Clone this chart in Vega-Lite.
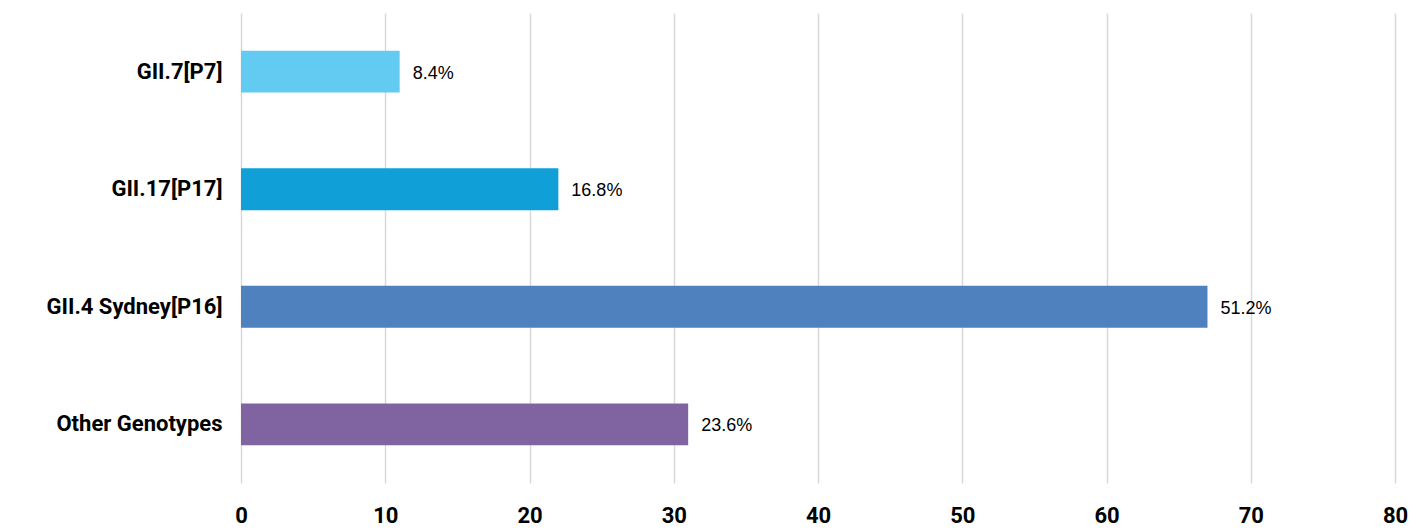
{
  "$schema": "https://vega.github.io/schema/vega-lite/v6.json",
  "autosize": {"type": "none"},
  "width": 1154,
  "height": 470,
  "padding": {"left": 241, "top": 13, "right": 27, "bottom": 47},
  "background": "white",
  "config": {"view": {"stroke": null}},
  "data": {
    "values": [
      {"genotype": "GII.7[P7]", "count": 11, "label": "8.4%"},
      {"genotype": "GII.17[P17]", "count": 22, "label": "16.8%"},
      {"genotype": "GII.4 Sydney[P16]", "count": 67, "label": "51.2%"},
      {"genotype": "Other Genotypes", "count": 31, "label": "23.6%"}
    ]
  },
  "encoding": {
    "y": {
      "field": "genotype",
      "type": "nominal",
      "sort": null,
      "scale": {"paddingInner": 0.643, "paddingOuter": 0.32},
      "axis": {
        "title": null,
        "domain": false,
        "ticks": false,
        "labelFont": "Roboto",
        "labelFontWeight": "bold",
        "labelFontSize": 22,
        "labelColor": "#000000",
        "labelPadding": 19
      }
    },
    "x": {
      "field": "count",
      "type": "quantitative",
      "scale": {"domain": [0, 80], "nice": false},
      "axis": {
        "title": null,
        "values": [0, 10, 20, 30, 40, 50, 60, 70, 80],
        "domain": false,
        "ticks": false,
        "grid": true,
        "gridColor": "#d9d9d9",
        "gridWidth": 1.5,
        "labelFlush": false,
        "labelFont": "Roboto",
        "labelFontWeight": "bold",
        "labelFontSize": 22,
        "labelColor": "#000000",
        "labelPadding": 22
      }
    }
  },
  "layer": [
    {
      "mark": {"type": "bar"},
      "encoding": {
        "color": {
          "field": "genotype",
          "type": "nominal",
          "legend": null,
          "scale": {
            "domain": ["GII.7[P7]", "GII.17[P17]", "GII.4 Sydney[P16]", "Other Genotypes"],
            "range": ["#63CBF2", "#119FD8", "#4E81BD", "#8064A2"]
          }
        }
      }
    },
    {
      "mark": {"type": "text", "align": "left", "baseline": "middle", "dx": 13, "dy": 2, "font": "Liberation Sans", "fontSize": 18, "color": "#000000"},
      "encoding": {"text": {"field": "label"}}
    }
  ]
}
